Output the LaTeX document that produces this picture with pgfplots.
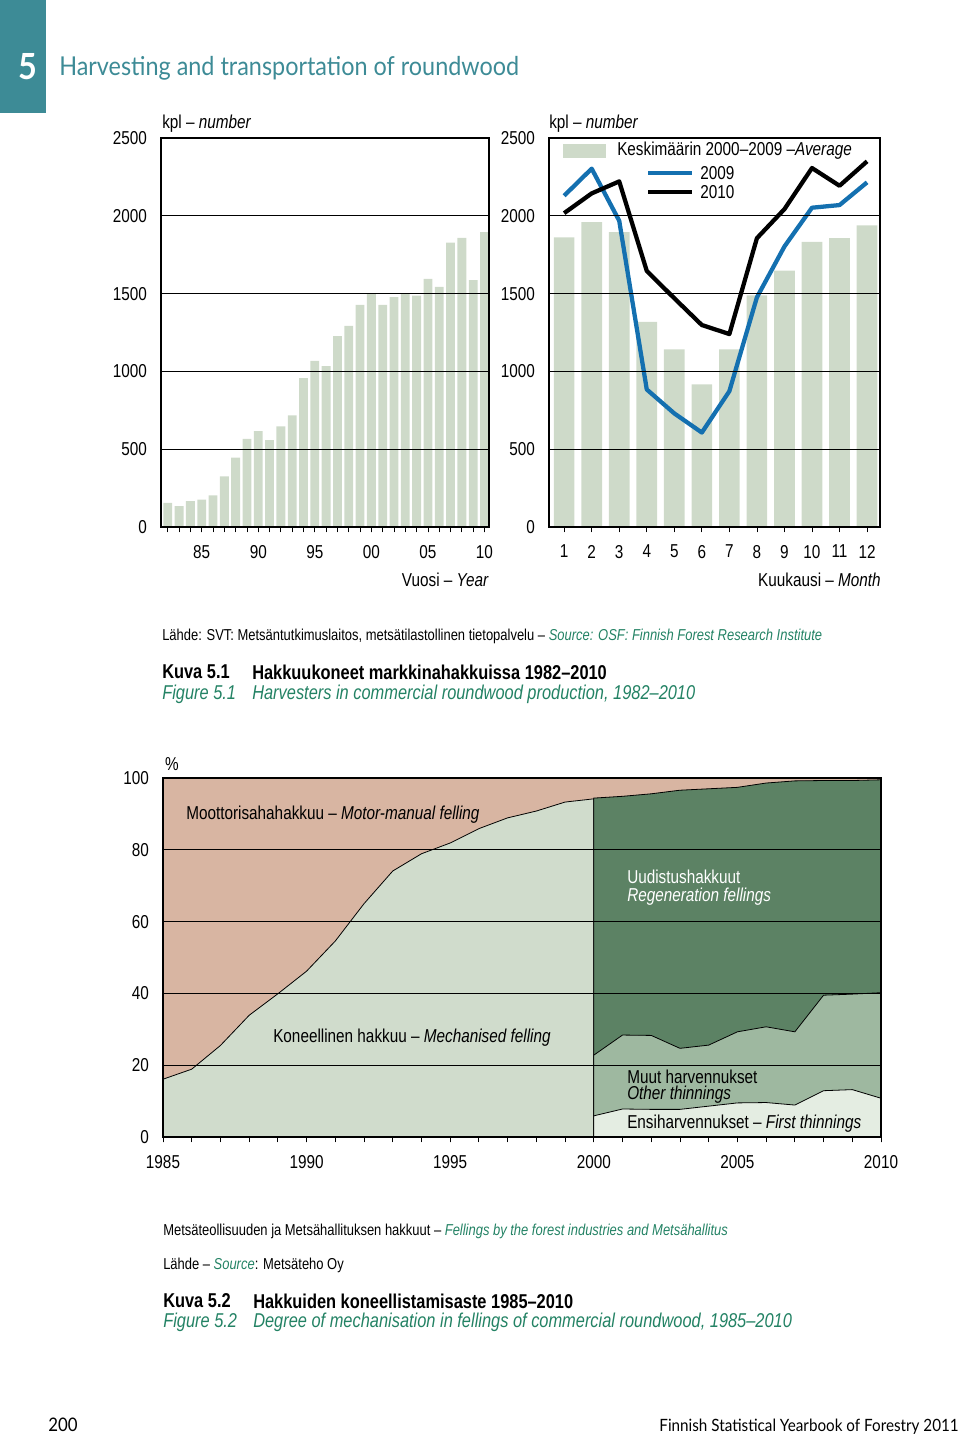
\documentclass[border=0pt]{standalone}
\usepackage{fontspec}
\setmainfont{Liberation Sans}[FakeStretch=0.82]
\newfontfamily\gill{Lato}[FakeStretch=0.9]
\usepackage{pgfplots}
\pgfplotsset{compat=1.18}
\definecolor{teal5}{RGB}{61,139,150}
\definecolor{capgreen}{RGB}{35,130,100}
\definecolor{barc}{RGB}{206,218,201}
\definecolor{blue09}{RGB}{20,112,176}
\definecolor{pinkc}{RGB}{216,181,162}
\definecolor{mechc}{RGB}{208,220,204}
\definecolor{regc}{RGB}{92,130,100}
\definecolor{othc}{RGB}{158,184,160}
\definecolor{firstc}{RGB}{228,237,226}
\pgfplotsset{mystyle/.style={scale only axis, axis on top,
  axis line style={line width=1.1pt},
  tick style={black, line width=0.6pt}, tick align=outside,
  xtick pos=bottom,
  major tick length=4pt, minor tick length=4pt,
  ymajorgrids, major grid style={black, line width=0.5pt},
  ytick style={draw=none},
  tick label style={font=\fontsize{14}{16}\selectfont},
  /pgf/number format/assume math mode=true,
  /pgf/number format/1000 sep={},
  yticklabel style={xshift=-3pt},
  xticklabel style={yshift=-6pt}}}
\begin{document}
\begin{tikzpicture}[x=0.75pt,y=-0.75pt]
\path[use as bounding box] (0,0) rectangle (960,1438);
% header
\fill[teal5] (0,0) rectangle (46,113);
\node[white, font=\gill\bfseries\fontsize{27}{30}\selectfont, inner sep=0] at (28,67) {5};
\node[teal5, anchor=west, inner sep=0, font=\gill\fontsize{19.5}{22}\selectfont] at (59,68) {Harvesting and transportation of roundwood};

% chart 1
\begin{axis}[mystyle, at={(120.75pt,-395.25pt)}, anchor=south west,
  width=246pt, height=291.75pt,
  xmin=1981.4, xmax=2010.4, ymin=0, ymax=2500,
  xtick={1985,1990,...,2010}, xticklabels={85,90,95,00,05,10},
  minor xtick={1982,...,2010}, ytick={0,500,...,2500}]
\addplot[ybar, bar width=0.78, fill=barc, draw=none] coordinates {
(1982,155) (1983,135) (1984,167) (1985,176) (1986,204) (1987,326) (1988,446)
(1989,567) (1990,616) (1991,558) (1992,646) (1993,717) (1994,957) (1995,1067)
(1996,1034) (1997,1227) (1998,1292) (1999,1427) (2000,1502) (2001,1427)
(2002,1478) (2003,1502) (2004,1487) (2005,1594) (2006,1543) (2007,1828)
(2008,1858) (2009,1586) (2010,1895)};
\end{axis}

% chart 2
\begin{axis}[mystyle, at={(411.75pt,-395.25pt)}, anchor=south west,
  width=248.25pt, height=291.75pt,
  xmin=0.45, xmax=12.47, ymin=0, ymax=2500,
  xtick={1,...,12}, ytick={0,500,...,2500}]
\addplot[ybar, bar width=0.75, fill=barc, draw=none] coordinates {
(1,1861) (2,1959) (3,1895) (4,1318) (5,1142) (6,916) (7,1142) (8,1489)
(9,1648) (10,1833) (11,1856) (12,1938)};
\addplot[blue09, line width=3.2pt, line join=round] coordinates {
(1,2129) (2,2303) (3,1968) (4,884) (5,730) (6,607) (7,873) (8,1476)
(9,1803) (10,2052) (11,2069) (12,2215)};
\addplot[black, line width=3.2pt, line join=round] coordinates {
(1,2017) (2,2144) (3,2221) (4,1646) (5,1470) (6,1298) (7,1240) (8,1856)
(9,2043) (10,2307) (11,2193) (12,2350)};
\end{axis}

% chart 3
\begin{axis}[mystyle, at={(122.25pt,-852.75pt)}, anchor=south west,
  width=538.5pt, height=269.25pt,
  xmin=1985, xmax=2010, ymin=0, ymax=100,
  xtick={1985,1990,...,2010}, minor xtick={1985,...,2010},
  ytick={0,20,...,100}]
\addplot[fill=pinkc, draw=none] coordinates {(1985,100) (2010,100)} \closedcycle;
\addplot[fill=mechc, draw=black, line width=0.6pt] coordinates {
(1985,16.1) (1986,18.9) (1987,25.5) (1988,33.9) (1989,39.9) (1990,46.2)
(1991,54.6) (1992,65.0) (1993,74.1) (1994,78.9) (1995,81.9) (1996,85.9)
(1997,88.9) (1998,90.8) (1999,93.3) (2000,94.2)} \closedcycle;
\addplot[fill=regc, draw=black, line width=0.6pt] coordinates {
(2000,94.4) (2001,94.9) (2002,95.6) (2003,96.6) (2004,97.0) (2005,97.4)
(2006,98.6) (2007,99.2) (2008,99.3) (2009,99.3) (2010,99.5)} \closedcycle;
\addplot[fill=othc, draw=black, line width=0.6pt] coordinates {
(2000,22.8) (2001,28.4) (2002,28.3) (2003,24.7) (2004,25.6) (2005,29.3)
(2006,30.7) (2007,29.3) (2008,39.5) (2009,39.8) (2010,40.2)} \closedcycle;
\addplot[fill=firstc, draw=black, line width=0.6pt] coordinates {
(2000,5.9) (2001,7.8) (2002,7.7) (2003,7.7) (2004,8.6) (2005,9.5)
(2006,9.6) (2007,8.9) (2008,12.9) (2009,13.2) (2010,10.8)} \closedcycle;
\end{axis}

\begin{scope}[every node/.style={inner sep=0, font=\fontsize{14}{16}\selectfont}]
% chart 1 / 2 labels
\node[anchor=west] at (162,124) {kpl – \textit{number}};
\node[anchor=west] at (549,124) {kpl – \textit{number}};
\node[anchor=east] at (489,580) {Vuosi – \textit{Year}};
\node[anchor=east] at (881,580) {Kuukausi – \textit{Month}};
\fill[barc] (563,144) rectangle (606,158);
\node[anchor=west] at (617,151) {Keskimäärin 2000–2009 –\textit{Average}};
\draw[blue09, line width=3.2pt] (648,173) -- (692,173);
\node[anchor=west] at (700,173) {2009};
\draw[black, line width=3.2pt] (648,192) -- (692,192);
\node[anchor=west] at (700,192) {2010};
% chart 3 labels
\node at (172,764) {\%};
\node[anchor=west] at (186,815) {Moottorisahahakkuu – \textit{Motor-manual felling}};
\node[anchor=west] at (273,1038) {Koneellinen hakkuu – \textit{Mechanised felling}};
\node[anchor=west, white] at (627,877) {Uudistushakkuut};
\node[anchor=west, white] at (627,897) {\textit{Regeneration fellings}};
\node[anchor=west] at (627,1077) {Muut harvennukset};
\node[anchor=west] at (627,1095) {\textit{Other thinnings}};
\node[anchor=west] at (627,1124) {Ensiharvennukset – \textit{First thinnings}};
\end{scope}

\begin{scope}[every node/.style={inner sep=0, anchor=west, font=\fontsize{11.85}{13}\selectfont}]
\node at (162,636) {Lähde: SVT: Metsäntutkimuslaitos, metsätilastollinen tietopalvelu – \textcolor{capgreen}{\textit{Source: OSF: Finnish Forest Research Institute}}};
\node at (163,1231) {Metsäteollisuuden ja Metsähallituksen hakkuut – \textcolor{capgreen}{\textit{Fellings by the forest industries and Metsähallitus}}};
\node at (163,1265) {Lähde – \textcolor{capgreen}{\textit{Source}}: Metsäteho Oy};
\end{scope}
\begin{scope}[every node/.style={inner sep=0, anchor=west}]
\node[font=\bfseries\fontsize{15}{17}\selectfont] at (162,672) {Kuva 5.1};
\node[font=\bfseries\fontsize{15}{17}\selectfont] at (252,672) {Hakkuukoneet markkinahakkuissa 1982–2010};
\node[capgreen, font=\itshape\fontsize{15}{17}\selectfont] at (162,694) {Figure 5.1};
\node[capgreen, font=\itshape\fontsize{15}{17}\selectfont] at (252,694) {Harvesters in commercial roundwood production, 1982–2010};
\node[font=\bfseries\fontsize{15}{17}\selectfont] at (163,1301) {Kuva 5.2};
\node[font=\bfseries\fontsize{15}{17}\selectfont] at (253,1301) {Hakkuiden koneellistamisaste 1985–2010};
\node[capgreen, font=\itshape\fontsize{15}{17}\selectfont] at (163,1322) {Figure 5.2};
\node[capgreen, font=\itshape\fontsize{15}{17}\selectfont] at (253,1322) {Degree of mechanisation in fellings of commercial roundwood, 1985–2010};
\end{scope}
% footer
\node[anchor=west, inner sep=0, font=\gill\fontsize{14}{16}\selectfont] at (48,1425) {200};
\node[anchor=east, inner sep=0, font=\gill\fontsize{12.7}{14}\selectfont] at (959,1427) {Finnish Statistical Yearbook of Forestry 2011};
\end{tikzpicture}
\end{document}
